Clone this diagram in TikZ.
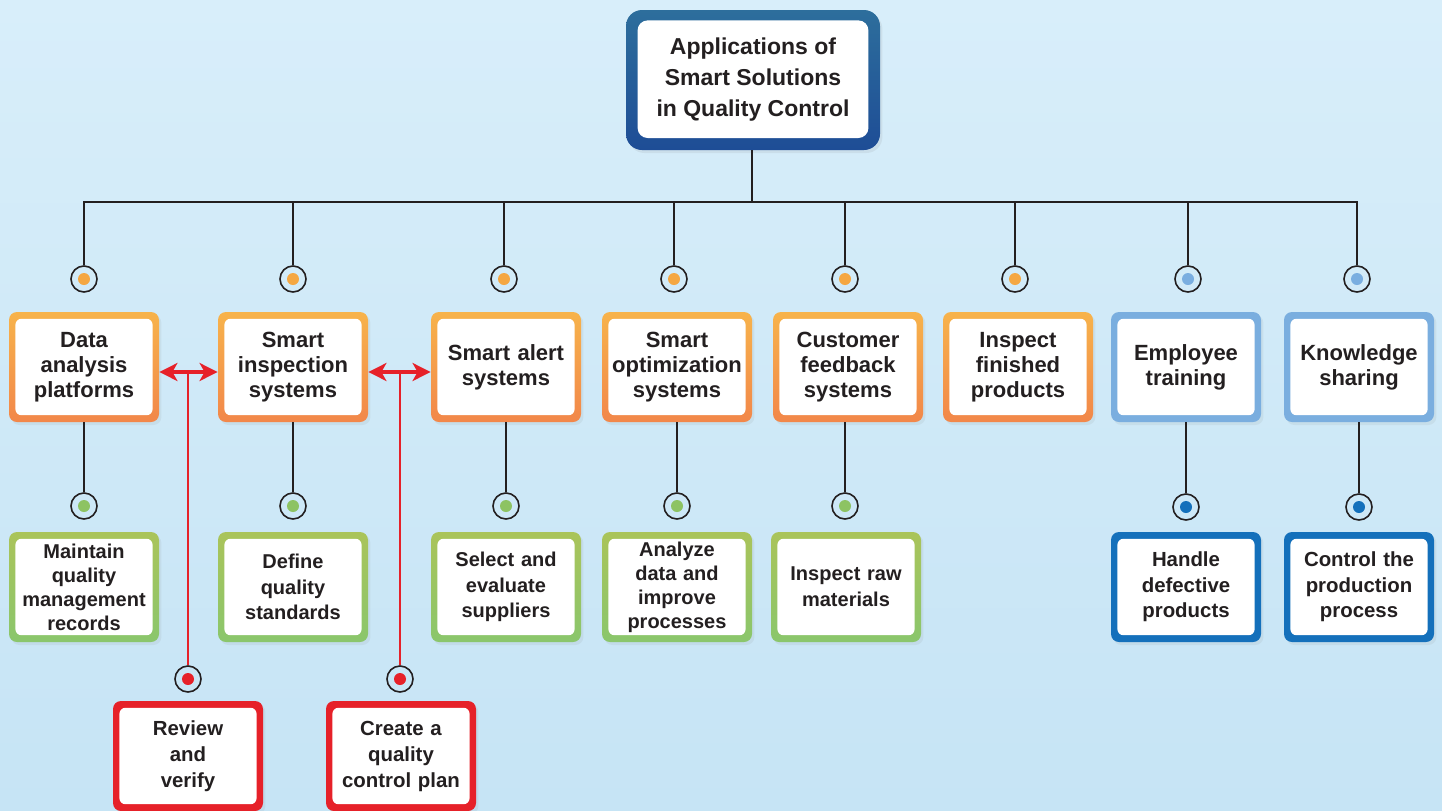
\documentclass[tikz,border=0pt]{standalone}
\usepackage{fontspec}
\setmainfont{Liberation Sans}
\usetikzlibrary{arrows.meta,shadows}
\definecolor{ink}{HTML}{231F20}
\definecolor{bgTop}{HTML}{D8EEFA}
\definecolor{bgBot}{HTML}{C6E4F5}
\definecolor{tpTop}{HTML}{2D6E9C}
\definecolor{tpBot}{HTML}{1E4D96}
\definecolor{orTop}{HTML}{F7B34B}
\definecolor{orBot}{HTML}{F2874A}
\definecolor{orDot}{HTML}{F5A742}
\definecolor{grTop}{HTML}{AAC45A}
\definecolor{grBot}{HTML}{8AC66C}
\definecolor{grDot}{HTML}{8DC363}
\definecolor{lbFrame}{HTML}{7AAEDF}
\definecolor{lbDot}{HTML}{7AAEE0}
\definecolor{dbFrame}{HTML}{1470BB}
\definecolor{rdFrame}{HTML}{E62129}
\tikzset{
  box/.style={rounded corners=4pt, minimum width=75pt, minimum height=55pt,
    inner sep=0pt, text width=70pt, align=center, text=ink,
    font=\bfseries\fontsize{11}{12.5}\selectfont,
    drop shadow={opacity=0.10, shadow xshift=1.2pt, shadow yshift=-1.5pt},
    path picture={\fill[white, rounded corners=3pt]
      ([shift={(3.2pt,-3.4pt)}]path picture bounding box.north west) rectangle
      ([shift={(-3.2pt,3.4pt)}]path picture bounding box.south east);}},
  obox/.style={box, top color=orTop, bottom color=orBot},
  gbox/.style={box, top color=grTop, bottom color=grBot, font=\bfseries\fontsize{10}{12.8}\selectfont},
  lbbox/.style={box, fill=lbFrame},
  dbbox/.style={box, fill=dbFrame, font=\bfseries\fontsize{10.2}{12.8}\selectfont},
  rbox/.style={box, fill=rdFrame, font=\bfseries\fontsize{10.2}{13}\selectfont},
  tight/.style={font=\bfseries\fontsize{10}{12}\selectfont},
  topbox/.style={rounded corners=8pt, minimum width=127pt, minimum height=70pt,
    inner sep=0pt, align=center, text=ink, top color=tpTop, bottom color=tpBot,
    font=\bfseries\fontsize{11.5}{15.5}\selectfont,
    drop shadow={opacity=0.12, shadow xshift=1.2pt, shadow yshift=-1.5pt},
    path picture={\fill[white, rounded corners=5pt]
      ([shift={(5.8pt,-5.2pt)}]path picture bounding box.north west) rectangle
      ([shift={(-5.8pt,6pt)}]path picture bounding box.south east);}},
  circ/.style={circle, draw=ink, line width=0.8pt, minimum size=13pt, inner sep=0pt,
    path picture={\fill[#1] (path picture bounding box.center) circle (3pt);}},
  conn/.style={draw=ink, line width=1pt},
  redline/.style={draw=rdFrame, line width=1.1pt},
  redarrow/.style={draw=rdFrame, line width=1.6pt,
    {Stealth[length=9pt,width=9pt,inset=2.5pt]}-{Stealth[length=9pt,width=9pt,inset=2.5pt]}}
}
\begin{document}
\begin{tikzpicture}[x=0.5pt,y=-0.5pt]
\useasboundingbox (0,0) rectangle (1442,810);
\fill[top color=bgTop, bottom color=bgBot] (0,0) rectangle (1442,810);

% top node
\node[topbox] (top) at (753,80) {Applications of\\Smart Solutions\\in Quality Control};
\coordinate (bus) at (752,202);

% level 1 circles
\node[circ=orDot] (c1) at (84,279) {};
\node[circ=orDot] (c2) at (293,279) {};
\node[circ=orDot] (c3) at (504,279) {};
\node[circ=orDot] (c4) at (674,279) {};
\node[circ=orDot] (c5) at (845,279) {};
\node[circ=orDot] (c6) at (1015,279) {};
\node[circ=lbDot] (c7) at (1188,279) {};
\node[circ=lbDot] (c8) at (1357,279) {};

% bus
\draw[conn] (bus |- top.south) -- (bus);
\draw[conn] (c1.north) -- (c1.north |- bus) -- (c8.north |- bus) -- (c8.north);
\foreach \c in {c2,c3,c4,c5,c6,c7} \draw[conn] (\c.north) -- (\c.north |- bus);

% level 1 boxes
\node[obox] (a1) at (84,367) {Data\\analysis\\platforms};
\node[obox] (a2) at (293,367) {Smart\\inspection\\systems};
\node[obox] (a3) at (506,367) {Smart alert\\systems};
\node[obox] (a4) at (677,367) {Smart\\optimization\\systems};
\node[obox] (a5) at (848,367) {Customer\\feedback\\systems};
\node[obox] (a6) at (1018,367) {Inspect\\finished\\products};
\node[lbbox] (a7) at (1186,367) {Employee\\training};
\node[lbbox] (a8) at (1359,367) {Knowledge\\sharing};

% level 2 circles
\node[circ=grDot] (d1) at (84,506) {};
\node[circ=grDot] (d2) at (293,506) {};
\node[circ=grDot] (d3) at (506,506) {};
\node[circ=grDot] (d4) at (677,506) {};
\node[circ=grDot] (d5) at (845,506) {};
\node[circ=dbFrame] (d6) at (1186,507) {};
\node[circ=dbFrame] (d7) at (1359,507) {};

\draw[conn] (d1.north) -- (d1.north |- a1.south);
\draw[conn] (d2.north) -- (d2.north |- a2.south);
\draw[conn] (d3.north) -- (d3.north |- a3.south);
\draw[conn] (d4.north) -- (d4.north |- a4.south);
\draw[conn] (d5.north) -- (d5.north |- a5.south);
\draw[conn] (d6.north) -- (d6.north |- a7.south);
\draw[conn] (d7.north) -- (d7.north |- a8.south);

% level 2 boxes
\node[gbox, tight] (b1) at (84,587) {Maintain\\quality\\management\\records};
\node[gbox] (b2) at (293,587) {Define\\quality\\standards};
\node[gbox] (b3) at (506,587) {Select and\\evaluate\\suppliers};
\node[gbox, tight] (b4) at (677,587) {Analyze\\data and\\improve\\processes};
\node[gbox] (b5) at (846,587) {Inspect raw\\materials};
\node[dbbox] (b6) at (1186,587) {Handle\\defective\\products};
\node[dbbox] (b7) at (1359,587) {Control the\\production\\process};

% red branch
\coordinate (r1) at ([yshift=-2.5pt]a1.east);
\coordinate (r2) at ([yshift=-2.5pt]a2.east);
\draw[redarrow] (r1) -- ([yshift=-2.5pt]a2.west);
\draw[redarrow] (r2) -- ([yshift=-2.5pt]a3.west);
\node[circ=rdFrame] (rc1) at (188,679) {};
\node[circ=rdFrame] (rc2) at (400,679) {};
\draw[redline] (rc1.north) -- (rc1.north |- r1);
\draw[redline] (rc2.north) -- (rc2.north |- r2);
\node[rbox] (e1) at (188,756) {Review\\and\\verify};
\node[rbox] (e2) at (401,756) {Create a\\quality\\control plan};
\end{tikzpicture}
\end{document}
